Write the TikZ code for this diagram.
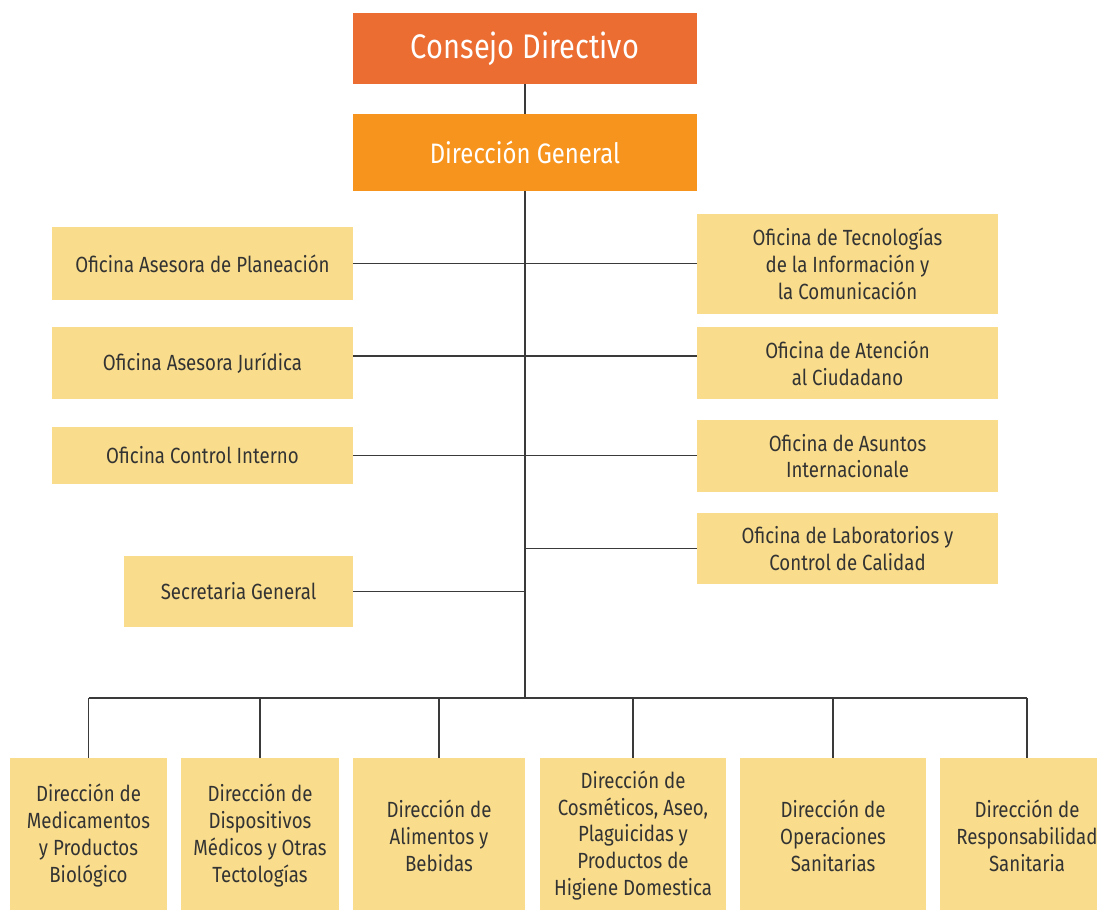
\documentclass[tikz,border=0pt]{standalone}
\usepackage{fontspec}
\setmainfont[FakeStretch=0.85]{Fira Sans}
\usetikzlibrary{positioning}
\definecolor{consejo}{HTML}{EB6D32}
\definecolor{general}{HTML}{F7941E}
\definecolor{oficina}{HTML}{F9DD8D}
\definecolor{linea}{HTML}{3A3A3A}
\definecolor{texto}{HTML}{333333}
\tikzset{
  caja/.style={fill=oficina, text=texto, align=center, inner sep=0pt, font=\fontsize{12.5}{15.3}\selectfont},
  jefe/.style={text=white, align=center, inner sep=0pt, minimum width=6.88cm},
  conector/.style={draw=linea, line width=1pt},
}
\begin{document}
\begin{tikzpicture}[x=0.02cm, y=-0.02cm]
	\useasboundingbox (0,0) rectangle (1097,909);
	% direccion
	\node[jefe, fill=consejo, minimum height=1.42cm, font=\fontsize{19.4}{24}\selectfont](cd) at (525,48.5){Consejo Directivo};
	\node[jefe, fill=general, minimum height=1.54cm, font=\fontsize{16}{20}\selectfont](dg) at (525,152.5){Dirección General};
	% oficinas izquierda
	\node[caja, minimum width=6.02cm, minimum height=1.46cm](pla) at (202.5,263.5){Oficina Asesora de Planeación};
	\node[caja, minimum width=6.02cm, minimum height=1.44cm](jur) at (202.5,363){Oficina Asesora Jurídica};
	\node[caja, minimum width=6.02cm, minimum height=1.14cm](ctl) at (202.5,455.5){Oficina Control Interno};
	\node[caja, minimum width=4.58cm, minimum height=1.42cm](sec) at (238.5,591.5){Secretaria General};
	% oficinas derecha
	\node[caja, minimum width=6.02cm, minimum height=2.0cm](tic) at (847.5,264){Oficina de Tecnologías\\de la Información y\\la Comunicación};
	\node[caja, minimum width=6.02cm, minimum height=1.44cm](ate) at (847.5,363){Oficina de Atención\\al Ciudadano};
	\node[caja, minimum width=6.02cm, minimum height=1.44cm](ain) at (847.5,456){Oficina de Asuntos\\Internacionale};
	\node[caja, minimum width=6.02cm, minimum height=1.42cm](lab) at (847.5,548.5){Oficina de Laboratorios y\\Control de Calidad};
	% direcciones tecnicas
	\node[caja, minimum width=3.14cm, minimum height=3.1cm](b1) at (88.5,835.5){Dirección de\\Medicamentos\\y Productos\\Biológico};
	\node[caja, minimum width=3.16cm, minimum height=3.1cm](b2) at (260,835.5){Dirección de\\Dispositivos\\Médicos y Otras\\Tectologías};
	\node[caja, minimum width=3.44cm, minimum height=3.1cm](b3) at (439,835.5){Dirección de\\Alimentos y\\Bebidas};
	\node[caja, minimum width=3.72cm, minimum height=3.1cm](b4) at (633,835.5){Dirección de\\Cosméticos, Aseo,\\Plaguicidas y\\Productos de\\Higiene Domestica};
	\node[caja, minimum width=3.72cm, minimum height=3.1cm](b5) at (833,835.5){Dirección de\\Operaciones\\Sanitarias};
	\node[caja, minimum width=3.48cm, minimum height=3.1cm](b6) at (1027,835.5){Dirección de\\Responsabilidad\\Sanitaria};
	% lineas
	\coordinate(bus) at (525,698);
	\coordinate(jline) at (525,356);
	\draw[conector](cd) to (dg);
	\draw[conector](dg) to (bus);
	\draw[conector](pla.east) to (tic.west |- pla.east);
	\draw[conector](jur.east |- jline) to (ate.west |- jline);
	\draw[conector](ctl.east) to (ain.west |- ctl.east);
	\draw[conector](lab.west) to (lab.west -| bus);
	\draw[conector](sec.east) to (sec.east -| bus);
	\draw[conector](b1.north |- bus) to (b6.north |- bus);
	\foreach \b in {b1,b2,b3,b4,b5,b6}
		\draw[conector](\b.north) to (\b.north |- bus);
\end{tikzpicture}
\end{document}
